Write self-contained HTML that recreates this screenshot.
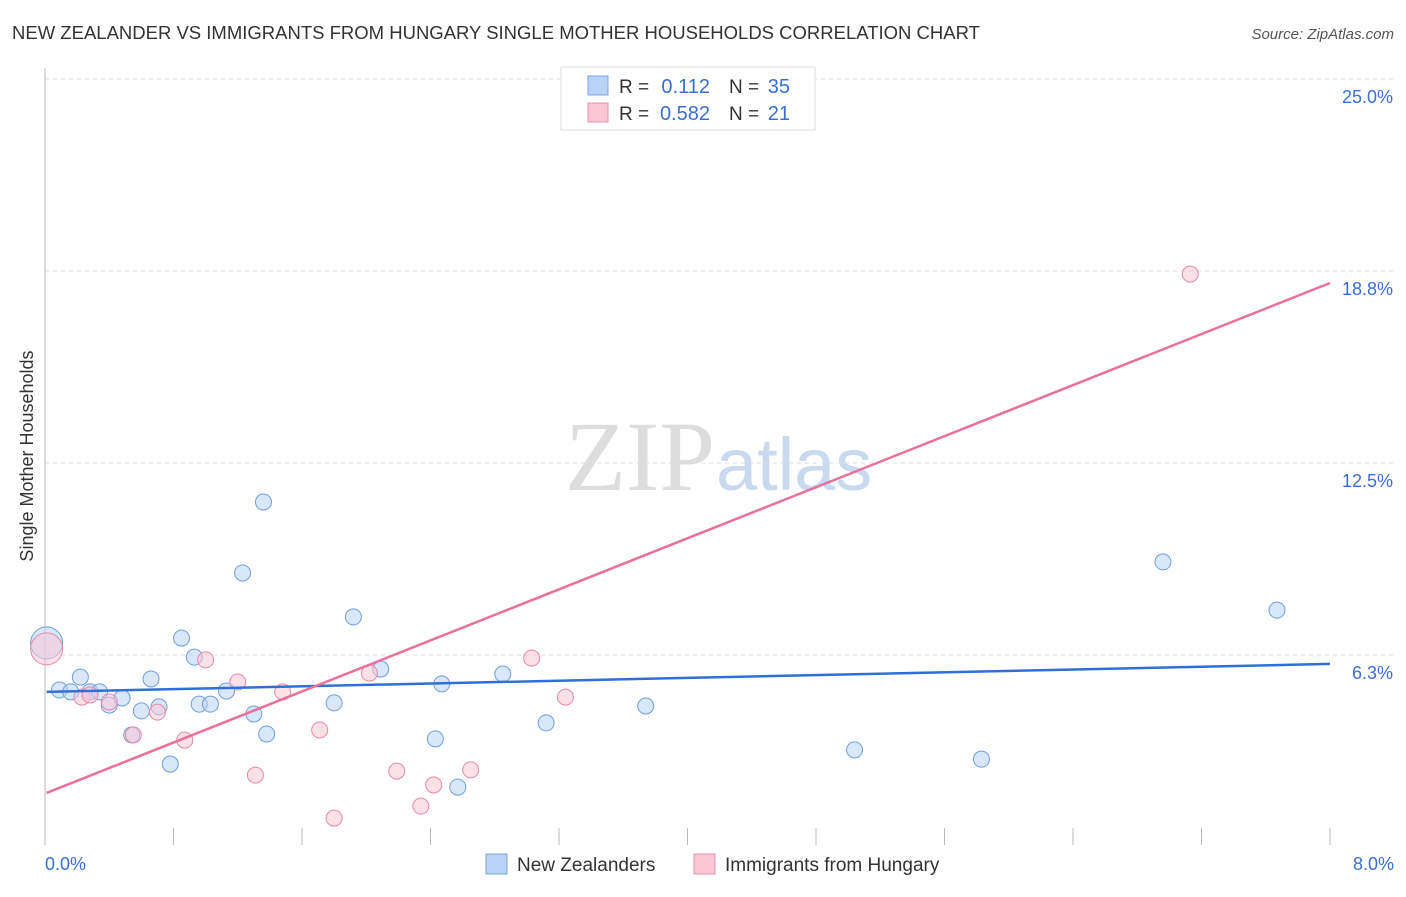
<!DOCTYPE html>
<html><head><meta charset="utf-8"><style>
body{margin:0;background:#fff;font-family:"Liberation Sans",sans-serif;}
svg text{font-family:"Liberation Sans",sans-serif;}
</style></head><body>
<svg id="chart" width="1406" height="892" xmlns="http://www.w3.org/2000/svg">
<text x="12" y="39" font-size="18.5" fill="#333">NEW ZEALANDER VS IMMIGRANTS FROM HUNGARY SINGLE MOTHER HOUSEHOLDS CORRELATION CHART</text>
<text x="1394" y="39" font-size="15" fill="#555" font-style="italic" text-anchor="end">Source: ZipAtlas.com</text>
<text x="715" y="490" font-size="100" fill="#ddd" text-anchor="end" style="font-family:'Liberation Serif',serif">ZIP</text>
<text x="716" y="490" font-size="74" fill="#c9d9ef">atlas</text>
<text x="33" y="456" font-size="18" fill="#333" text-anchor="middle" transform="rotate(-90 33 456)">Single Mother Households</text>
<g id="grid"></g><g id="marks"></g>
<g>
<rect x="561" y="67" width="254" height="63" fill="#fff" stroke="#ddd"/>
<rect x="588" y="76" width="20" height="19" fill="#b8d3f5" stroke="#7aa6e0"/>
<rect x="588" y="103" width="20" height="19" fill="#f9c6d5" stroke="#e890ac"/>
<text x="619" y="93" font-size="19" fill="#333">R =</text><text x="710" y="93" font-size="20" fill="#3a6fd0" text-anchor="end">0.112</text>
<text x="729" y="93" font-size="19" fill="#333">N =</text><text x="790" y="93" font-size="20" fill="#3a6fd0" text-anchor="end">35</text>
<text x="619" y="120" font-size="19" fill="#333">R =</text><text x="710" y="120" font-size="20" fill="#3a6fd0" text-anchor="end">0.582</text>
<text x="729" y="120" font-size="19" fill="#333">N =</text><text x="790" y="120" font-size="20" fill="#3a6fd0" text-anchor="end">21</text>
</g>
<g>
<rect x="486" y="854" width="21" height="20" fill="#b8d3f5" stroke="#7aa6e0"/>
<text x="517" y="871" font-size="19" fill="#333">New Zealanders</text>
<rect x="694" y="854" width="21" height="20" fill="#f9c6d5" stroke="#e890ac"/>
<text x="725" y="871" font-size="19" fill="#333">Immigrants from Hungary</text>
</g>
</svg>
<script>
const yTicks=[25.0,18.8,12.5,6.3];
const yTickVals=[25,18.75,12.5,6.25];
const xTickLabels=["0.0%","8.0%"];
const blueX=[0.01,0.09,0.16,0.22,0.28,0.34,0.40,0.48,0.54,0.60,0.66,0.71,0.78,0.85,0.93,0.96,1.03,1.13,1.23,1.30,1.36,1.38,1.80,1.92,2.09,2.43,2.47,2.57,2.85,3.12,3.74,5.04,5.83,6.96,7.67];
const blueY=[6.64,5.11,5.05,5.53,5.05,5.05,4.62,4.85,3.65,4.43,5.47,4.56,2.70,6.80,6.18,4.65,4.65,5.08,8.92,4.33,11.23,3.68,4.69,7.49,5.79,3.52,5.31,1.95,5.63,4.04,4.59,3.16,2.86,9.28,7.71];
const pinkX=[0.01,0.23,0.28,0.40,0.55,0.70,0.87,1.00,1.20,1.31,1.48,1.71,1.80,2.02,2.19,2.34,2.42,2.65,3.03,3.24,7.13];
const pinkY=[6.45,4.88,4.95,4.72,3.65,4.39,3.48,6.09,5.37,2.34,5.05,3.81,0.94,5.66,2.47,1.33,2.02,2.51,6.15,4.88,18.65];
const blueTrend=[5.05,5.96];
const pinkTrend=[1.76,18.36];
const NS="http://www.w3.org/2000/svg";
const X=v=>45+v*160.625, Y=v=>847-v*30.72;
function mk(t,a,p){const e=document.createElementNS(NS,t);for(const k in a)e.setAttribute(k,a[k]);p.appendChild(e);return e;}
const g=document.getElementById('grid'),m=document.getElementById('marks');
yTickVals.forEach((v,i)=>{
 const l=mk('line',{x1:45,x2:1394,y1:Y(v),y2:Y(v),stroke:'#ddd','stroke-dasharray':'4,4'},g);
 
 
 const t=mk('text',{x:1393,y:Y(v)+24,'font-size':18,fill:'#3a6fd0','text-anchor':'end'},g);t.textContent=yTicks[i].toFixed(1)+'%';
 
 
});
const ax=mk('line',{x1:45,x2:45,y1:68,y2:845,stroke:'#bbb'},g);


for(let i=0;i<=10;i++){const t=mk('line',{x1:X(i*0.8),x2:X(i*0.8),y1:828,y2:845,stroke:'#bbb'},g);
 
 }
[[0,'start',45],[8,'end',1394]].forEach((d,i)=>{const t=mk('text',{x:d[2],y:870,'font-size':18,fill:'#3a6fd0','text-anchor':d[1]},g);t.textContent=xTickLabels[i];
 
 });
function pts(xs,ys,fill,stroke,name){xs.forEach((x,i)=>{const c=mk('circle',{cx:X(x),cy:Y(ys[i]),r:i==0?16:8,fill:fill,'fill-opacity':0.55,stroke:stroke,'stroke-width':1},m);
 
 });}
pts(blueX,blueY,'#b8d3f5','#6f9fdc','point-new-zealander');
pts(pinkX,pinkY,'#f9c6d5','#e68aa8','point-hungary');
const bl=mk('line',{x1:X(0.01),x2:X(8),y1:Y(blueTrend[0]),y2:Y(blueTrend[1]),stroke:'#2f6fd6','stroke-width':2.5},m);


const pl=mk('line',{x1:X(0.01),x2:X(8),y1:Y(pinkTrend[0]),y2:Y(pinkTrend[1]),stroke:'#e8709a','stroke-width':2.5},m);


</script>
</body></html>
